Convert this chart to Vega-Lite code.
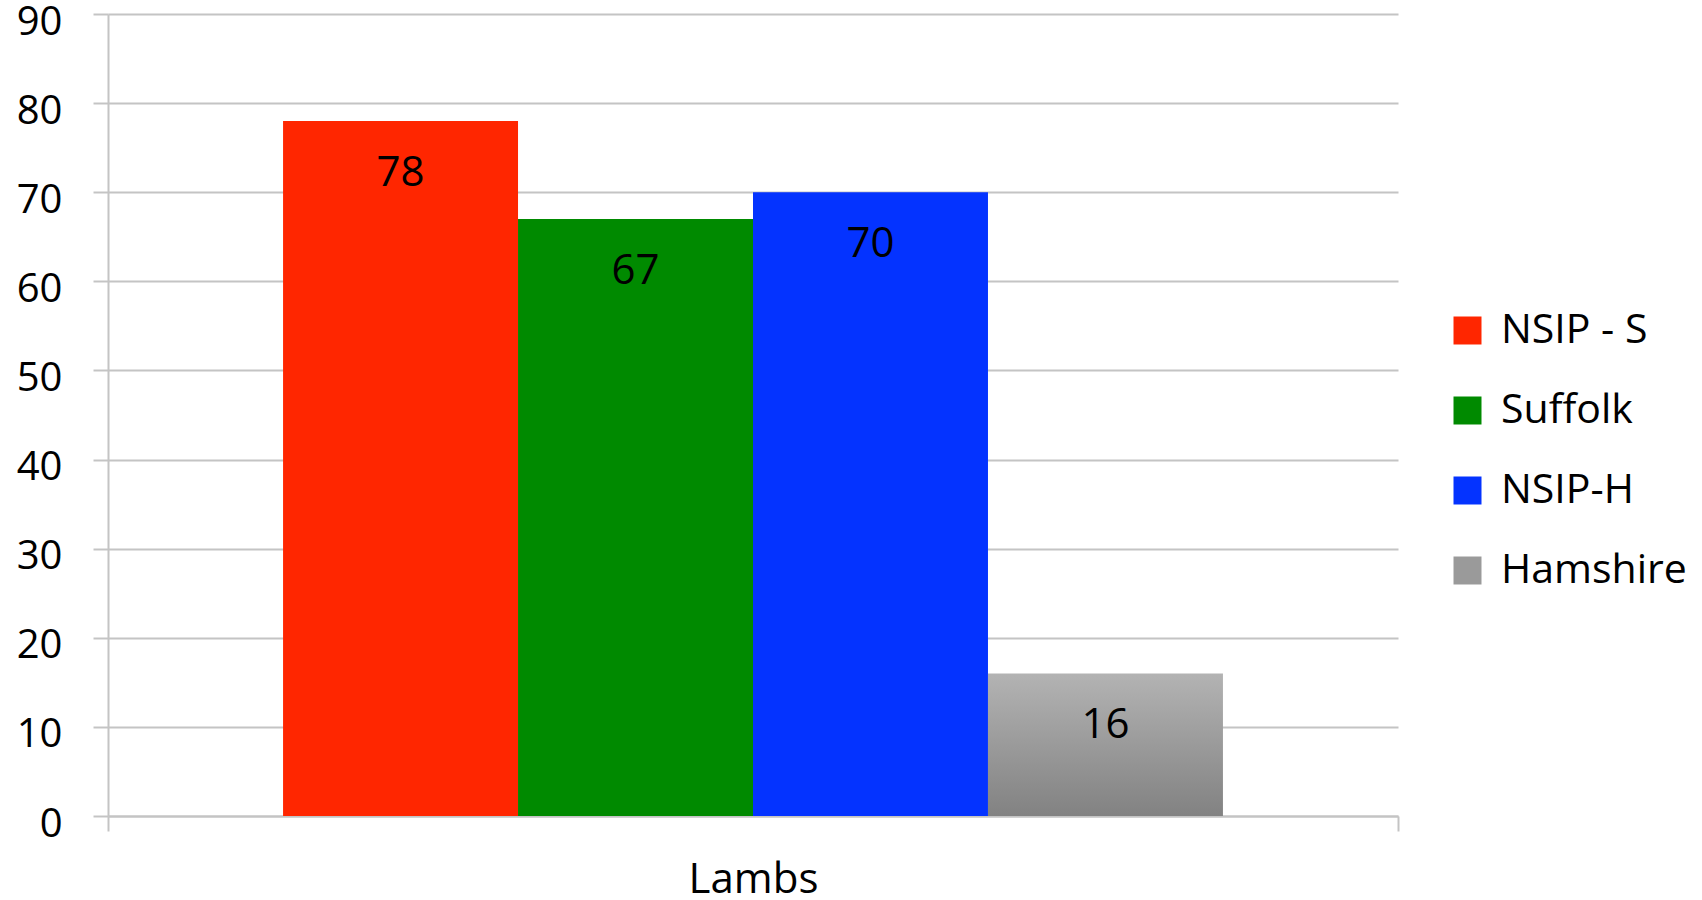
{
  "$schema": "https://vega.github.io/schema/vega-lite/v6.json",
  "width": 1290,
  "height": 802,
  "autosize": {"type": "none"},
  "padding": {"left": 108, "top": 14, "right": 304, "bottom": 84},
  "background": "white",
  "config": {
    "view": {"stroke": null},
    "font": "Open Sans"
  },
  "data": {
    "values": [
      {"group": "Lambs", "breed": "NSIP - S", "count": 78},
      {"group": "Lambs", "breed": "Suffolk", "count": 67},
      {"group": "Lambs", "breed": "NSIP-H", "count": 70},
      {"group": "Lambs", "breed": "Hamshire", "count": 16}
    ]
  },
  "encoding": {
    "x": {
      "field": "group",
      "type": "nominal",
      "scale": {"paddingInner": 0, "paddingOuter": 0},
      "axis": {
        "title": null,
        "grid": false,
        "tickBand": "extent",
        "labelAngle": 0,
        "labelFontSize": 42,
        "labelColor": "#000000",
        "labelPadding": 28,
        "tickSize": 15,
        "tickWidth": 2,
        "tickColor": "#c4c4c4",
        "domainColor": "#c4c4c4",
        "domainWidth": 2
      }
    },
    "xOffset": {
      "field": "breed",
      "type": "nominal",
      "sort": ["NSIP - S", "Suffolk", "NSIP-H", "Hamshire"],
      "scale": {"paddingInner": 0, "paddingOuter": 0.745}
    },
    "y": {
      "field": "count",
      "type": "quantitative",
      "scale": {"domain": [0, 90], "nice": false},
      "axis": {
        "title": null,
        "values": [0, 10, 20, 30, 40, 50, 60, 70, 80, 90],
        "grid": true,
        "gridColor": "#c4c4c4",
        "gridWidth": 2,
        "tickSize": 15,
        "tickWidth": 2,
        "tickColor": "#c4c4c4",
        "domainColor": "#c4c4c4",
        "domainWidth": 2,
        "labelFontSize": 40,
        "labelColor": "#000000",
        "labelPadding": 31,
        "labelOffset": 8,
        "labelBound": false,
        "labelFlush": false
      }
    }
  },
  "layer": [
    {
      "mark": {"type": "bar"},
      "encoding": {
        "color": {
          "condition": {
            "test": "datum.breed === 'Hamshire'",
            "value": {
              "gradient": "linear",
              "x1": 0, "y1": 0, "x2": 0, "y2": 1,
              "stops": [
                {"offset": 0, "color": "#b3b3b3"},
                {"offset": 1, "color": "#828282"}
              ]
            }
          },
          "field": "breed",
          "type": "nominal",
          "sort": ["NSIP - S", "Suffolk", "NSIP-H", "Hamshire"],
          "scale": {
            "domain": ["NSIP - S", "Suffolk", "NSIP-H", "Hamshire"],
            "range": ["#ff2600", "#008a00", "#0433ff", "#9a9a9a"]
          },
          "legend": {
            "title": null,
            "orient": "none",
            "legendX": 1339,
            "legendY": 296,
            "padding": 0,
            "symbolType": "square",
            "symbolSize": 784,
            "symbolStrokeWidth": 0,
            "labelFontSize": 41,
            "labelColor": "#000000",
            "labelOffset": 13,
            "labelLimit": 400,
            "rowPadding": 38,
            "encode": {
              "symbols": {
                "update": {
                  "fill": [
                    {
                      "test": "datum.value === 'Hamshire'",
                      "value": {
                        "gradient": "linear",
                        "x1": 0, "y1": 0, "x2": 0, "y2": 1,
                        "stops": [
                          {"offset": 0, "color": "#b3b3b3"},
                          {"offset": 1, "color": "#828282"}
                        ]
                      }
                    },
                    {"scale": "color", "field": "value"}
                  ]
                }
              }
            }
          }
        }
      }
    },
    {
      "mark": {
        "type": "text",
        "align": "center",
        "baseline": "alphabetic",
        "dy": 65,
        "fontSize": 42,
        "color": "#000000"
      },
      "encoding": {
        "text": {"field": "count", "type": "quantitative"}
      }
    }
  ]
}
